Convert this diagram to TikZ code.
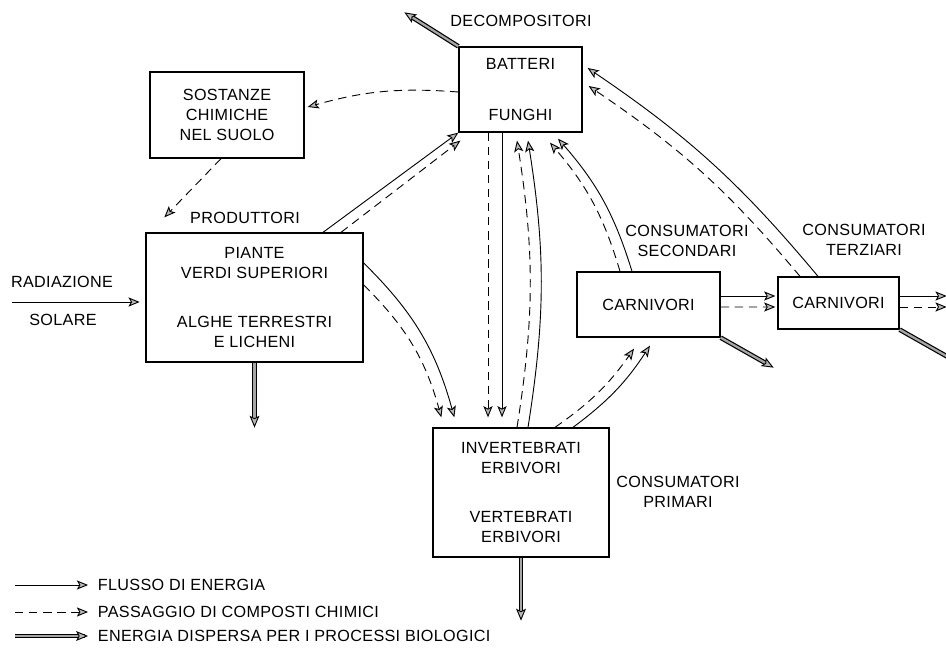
\documentclass[tikz,border=0pt]{standalone}
\usepackage{fontspec}
\setmainfont{Liberation Sans}[LetterSpace=2]
\usetikzlibrary{arrows.meta,positioning,calc}
\colorlet{tipG}{gray!55}

\begin{document}
\begin{tikzpicture}[x=0.025cm,y=0.025cm,
  every node/.style={font=\fontsize{11.5}{14.2}\selectfont},
  box/.style={draw,line width=0.9pt,align=center,inner sep=0pt},
  flow/.style={line width=0.65pt,-{Stealth[length=8pt,width=6.5pt,inset=1.8pt,fill=tipG]}},
  chem/.style={flow,dash pattern=on 6pt off 4pt},
  lost/.style={draw=gray!70,line width=1.6pt,
    -{Stealth[length=8.5pt,width=7pt,inset=1.8pt,color=black,fill=tipG,line width=0.65pt]},
    preaction={draw=black,line width=3.3pt,-,shorten >=6pt}}]
  \useasboundingbox (0,0) rectangle (946,-663);

  % boxes
  \node[box,minimum width=3.075cm,minimum height=2.125cm] (batt) at (520.5,-89.5) {BATTERI\\[22pt]FUNGHI};
  \node[box,minimum width=3.85cm,minimum height=2.15cm] (suolo) at (227,-115) {SOSTANZE\\CHIMICHE\\NEL SUOLO};
  \node[box,minimum width=5.425cm,minimum height=3.225cm] (prod) at (254.5,-297.5)
    {PIANTE\\VERDI SUPERIORI\\[20pt]ALGHE TERRESTRI\\E LICHENI};
  \node[box,minimum width=4.4cm,minimum height=3.225cm] (prim) at (521,-492.5)
    {INVERTEBRATI\\ERBIVORI\\[20pt]VERTEBRATI\\ERBIVORI};
  \node[box,minimum width=3.575cm,minimum height=1.625cm] (carnA) at (648.5,-304.5) {CARNIVORI};
  \node[box,minimum width=3.025cm,minimum height=1.3cm] (carnB) at (838.5,-303) {CARNIVORI};

  % labels
  \node (decomp) at (521,-21) {DECOMPOSITORI};
  \node (prodlbl) at (245,-218) {PRODUTTORI};
  \node (rad) at (62,-282) {RADIAZIONE};
  \node (sol) at (63,-320) {SOLARE};
  \node[align=center] (primlbl) at (678,-492) {CONSUMATORI\\PRIMARI};
  \node[align=center] (seclbl) at (687,-241) {CONSUMATORI\\SECONDARI};
  \node[align=center] (terlbl) at (864,-240) {CONSUMATORI\\TERZIARI};

  % free ends
  \coordinate (radS) at (12,-302);
  \coordinate (battOut) at ($(batt.north west)+(-54,34)$);
  \coordinate (prodOut) at ($(prod.south)+(0,-65)$);
  \coordinate (primOut) at ($(prim.south)+(0,-63)$);
  \coordinate (carnAOut) at ($(carnA.south east)+(53,-30)$);
  \coordinate (carnBOut) at ($(carnB.south east)+(60,-34)$);
  \coordinate (edgeA) at ($(carnB.east)+(47,7)$);
  \coordinate (edgeB) at ($(carnB.east)+(47,-4)$);

  % producers
  \draw[flow,shorten >=4pt] (radS) -- (radS -| prod.west);
  \draw[flow] ($(prod.north)+(68.5,0)$) -- (batt.south west);
  \draw[chem] ($(prod.north)+(86.5,0)$) -- ($(batt.south west)+(2,-8)$);
  \draw[flow] ($(prod.east)+(0,34.5)$) to[bend left=15] ($(prim.north west)+(22,10)$);
  \draw[chem] ($(prod.east)+(0,12.5)$) to[bend left=15] ($(prim.north west)+(9,10)$);

  % soil
  \draw[chem] ($(batt.west)+(0,-2.5)$) to[bend right=10] ($(suolo.east)+(3,8)$);
  \draw[chem] ($(suolo.south)+(-6,0)$) -- ($(prod.north west)+(19,15)$);

  % herbivores <-> decomposers
  \foreach \dx/\sty in {-33/chem,-19/flow}
    \draw[\sty] ($(batt.south)+(\dx+0.5,0)$) -- ($(prim.north)+(\dx,10)$);
  \foreach \dx/\sty in {-4/chem,7/flow}
    \draw[\sty] ($(prim.north)+(\dx,0)$) to[bend right=9] ($(batt.south)+(\dx+0.5,-8)$);

  % carnivores
  \draw[flow] ($(prim.north)+(52,0)$) to[bend right=10] ($(carnA.south)+(1.5,-8)$);
  \draw[chem] ($(prim.north)+(34,0)$) to[bend right=10] ($(carnA.south)+(-14.5,-11)$);
  \draw[flow] ($(carnA.north)+(-16.5,0)$) to[bend right=12] ($(batt.south)+(37.5,-6)$);
  \draw[chem] ($(carnA.north)+(-28.5,0)$) to[bend right=12] ($(batt.south)+(29.5,-10)$);
  \draw[flow] ($(carnB.north)+(-20.5,0)$) to[bend right=8] ($(batt.east)+(5,21.5)$);
  \draw[chem] ($(carnB.north)+(-38.5,0)$) to[bend right=8] ($(batt.east)+(6,3.5)$);
  \draw[flow] ($(carnA.east)+(0,8.5)$) -- ($(carnB.west)+(-2,7)$);
  \draw[chem] ($(carnA.east)+(0,-2.5)$) -- ($(carnB.west)+(-2,-4)$);
  \draw[flow] ($(carnB.east)+(0,7)$) -- (edgeA);
  \draw[chem] ($(carnB.east)+(0,-4)$) -- (edgeB);

  % lost energy
  \draw[lost] (batt.north west) -- (battOut);
  \draw[lost] (prod.south) -- (prodOut);
  \draw[lost] (prim.south) -- (primOut);
  \draw[lost] (carnA.south east) -- (carnAOut);
  \draw[lost] (carnB.south east) -- (carnBOut);

  % legend
  \node[anchor=west] (lgA) at (93,-585) {FLUSSO DI ENERGIA};
  \node[anchor=west] (lgB) at (93,-612) {PASSAGGIO DI COMPOSTI CHIMICI};
  \node[anchor=west] (lgC) at (93,-636) {ENERGIA DISPERSA PER I PROCESSI BIOLOGICI};
  \draw[flow,shorten >=3.5pt] ($(lgA.west)+(-78,0)$) -- (lgA.west);
  \draw[chem,shorten >=3.5pt] ($(lgB.west)+(-78,0)$) -- (lgB.west);
  \draw[lost,shorten >=3.5pt] ($(lgC.west)+(-78,0)$) -- (lgC.west);
\end{tikzpicture}
\end{document}
